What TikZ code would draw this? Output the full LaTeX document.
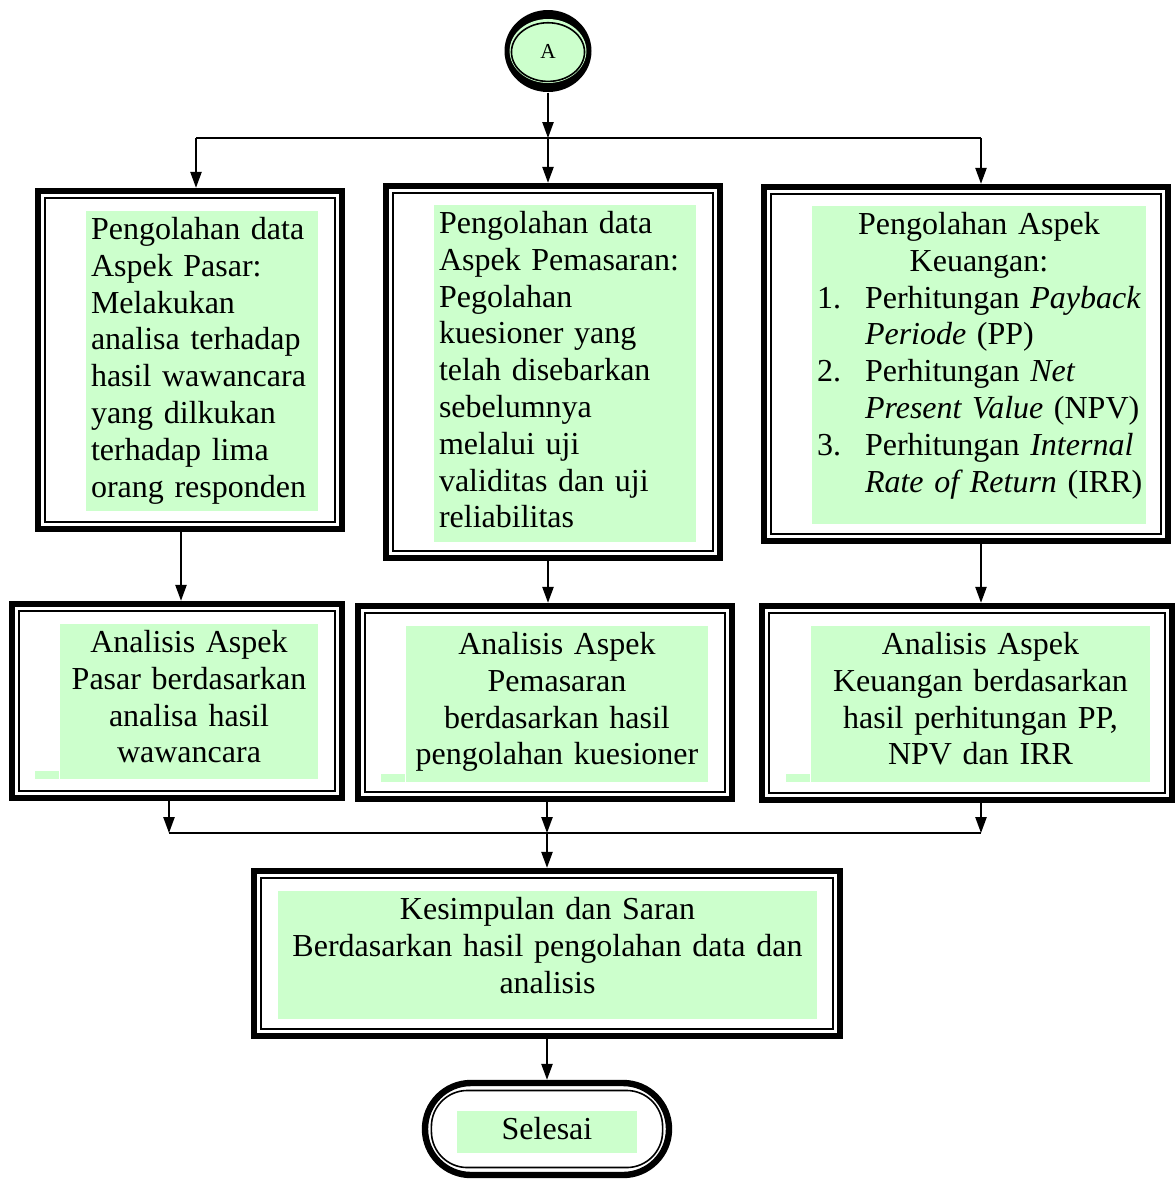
\documentclass[tikz,border=0pt]{standalone}
\usepackage{fontspec}
\setmainfont{Liberation Serif}
\usetikzlibrary{shapes.geometric,arrows.meta}
\newdimen\px \px=0.375pt
\definecolor{hijau}{HTML}{CCFFCC}
\tikzstyle{bingkai}=[draw,line width=2.4pt,inner sep=0pt]
\tikzstyle{bingkai dalam}=[draw,line width=0.6pt]
\tikzstyle{isi}=[fill=hijau,anchor=north,inner xsep=5*\px,inner ysep=0pt,text height=29*\px,font=\fontsize{12}{13.8}\selectfont]
\tikzstyle{garis}=[draw,line width=0.7pt]
\tikzstyle{panah}=[draw,line width=0.7pt,-{Triangle[length=6pt,width=4.2pt]}]
\tikzstyle{mulai}=[ellipse,fill=black,minimum width=87*\px,minimum height=82*\px,inner sep=0pt,
  font=\fontsize{8}{9}\selectfont,
  path picture={
    \fill[hijau] (path picture bounding box.center) ellipse [x radius=14.4pt,y radius=12pt];
    \draw[line width=0.6pt] ([yshift=-0.4pt]path picture bounding box.center) ellipse [x radius=13.7pt,y radius=11pt];
  }]

\begin{document}
\begin{tikzpicture}[x=0.375pt,y=-0.375pt]
    \useasboundingbox (0,0) rectangle (1176,1180);

    \node[mulai] (A) at (548,51) {A};

    \node[bingkai,minimum width=304*\px,minimum height=338*\px] (pasar) at (190,360) {};
    \node[bingkai,minimum width=334*\px,minimum height=372*\px] (pemasaran) at (553,372) {};
    \node[bingkai,minimum width=404*\px,minimum height=354*\px] (keuangan) at (966,364) {};
    \node[bingkai,minimum width=330*\px,minimum height=194*\px] (anPasar) at (177,701) {};
    \node[bingkai,minimum width=374*\px,minimum height=193*\px] (anPemasaran) at (545,702.5) {};
    \node[bingkai,minimum width=410*\px,minimum height=194*\px] (anKeuangan) at (967,703) {};
    \node[bingkai,minimum width=586*\px,minimum height=165*\px] (kesimpulan) at (547,953.5) {};
    \node[bingkai,rounded corners=45.9*\px,minimum width=244*\px,minimum height=92*\px] (selesai) at (547,1129) {};

    \foreach \b in {pasar,pemasaran,keuangan,anPasar,anPemasaran,anKeuangan,kesimpulan}{
        \path[bingkai dalam] ([xshift=3.75pt,yshift=-3.75pt]\b.north west) rectangle ([xshift=-3.75pt,yshift=3.75pt]\b.south east);
    }
    \path[bingkai dalam,rounded corners=13.5pt] ([xshift=3.6pt,yshift=-4pt]selesai.north west) rectangle ([xshift=-3.6pt,yshift=4pt]selesai.south east);

    \node[isi,text width=222*\px,text depth=271*\px,align=left] (tPasar) at (202,210)
        {Pengolahan data\\Aspek Pasar:\\Melakukan\\analisa terhadap\\hasil wawancara\\yang dilkukan\\terhadap lima\\orang responden};
    \node[isi,text width=252*\px,text depth=308*\px,align=left] (tPemasaran) at (565,204)
        {Pengolahan data\\Aspek Pemasaran:\\Pegolahan\\kuesioner yang\\telah disebarkan\\sebelumnya\\melalui uji\\validitas dan uji\\reliabilitas};
    \node[isi,text width=324*\px,text depth=289*\px,align=left] (tKeuangan) at (979,205)
        {\makebox[\hsize]{Pengolahan Aspek}\\
         \makebox[\hsize]{Keuangan:}\\
         \mbox{\makebox[48\px][l]{1.}Perhitungan \textit{Payback}}\\
         \mbox{\hspace*{48\px}\textit{Periode} (PP)}\\
         \mbox{\makebox[48\px][l]{2.}Perhitungan \textit{Net}}\\
         \mbox{\hspace*{48\px}\textit{Present Value} (NPV)}\\
         \mbox{\makebox[48\px][l]{3.}Perhitungan \textit{Internal}}\\
         \mbox{\hspace*{48\px}\textit{Rate of Return} (IRR)}};

    \node[isi,text width=248*\px,text depth=126*\px,align=center] (tAnPasar) at (189,623)
        {Analisis Aspek\\Pasar berdasarkan\\analisa hasil\\wawancara};
    \node[isi,text width=292*\px,text depth=127*\px,align=center] (tAnPemasaran) at (557,625)
        {Analisis Aspek\\Pemasaran\\berdasarkan hasil\\pengolahan kuesioner};
    \node[isi,text width=329*\px,text depth=127*\px,align=center] (tAnKeuangan) at (980.5,625)
        {Analisis Aspek\\Keuangan berdasarkan\\hasil perhitungan PP,\\NPV dan IRR};
    \foreach \t in {tAnPasar,tAnPemasaran,tAnKeuangan}{
        \fill[hijau] ([xshift=-24*\px]\t.south west) rectangle ([yshift=8.5*\px]\t.south west);
    }

    \node[isi,text width=529*\px,text depth=99*\px,align=center] (tKesimpulan) at (547.5,890)
        {Kesimpulan dan Saran\\Berdasarkan hasil pengolahan data dan\\analisis};
    \node[isi,text width=170*\px,text depth=13*\px,align=center] (tSelesai) at (547,1110) {Selesai};

    \coordinate (cabang) at (548,138);
    \coordinate (cabangKiri) at (196,138);
    \coordinate (cabangKanan) at (981,138);
    \path[panah] (A) -- (cabang);
    \path[garis] (cabangKiri) -- (cabangKanan);
    \path[panah] (cabangKiri) -- (cabangKiri |- pasar.north);
    \path[panah] (cabang) -- (cabang |- pemasaran.north);
    \path[panah] (cabangKanan) -- (cabangKanan |- keuangan.north);

    \path[panah] ([xshift=-9*\px]pasar.south) -- ([xshift=4*\px]anPasar.north);
    \path[panah] ([xshift=-5*\px]pemasaran.south) -- ([xshift=3*\px]anPemasaran.north);
    \path[panah] ([xshift=15*\px]keuangan.south) -- ([xshift=14*\px]anKeuangan.north);

    \coordinate (gabung) at (547,833);
    \coordinate (gabungKiri) at (169,833);
    \coordinate (gabungKanan) at (981,833);
    \path[panah] (gabungKiri |- anPasar.south) -- (gabungKiri);
    \path[panah] (gabung |- anPemasaran.south) -- (gabung);
    \path[panah] (gabungKanan |- anKeuangan.south) -- (gabungKanan);
    \path[garis] (gabungKiri) -- (gabungKanan);
    \path[panah] (gabung) -- (kesimpulan);
    \path[panah] (kesimpulan) -- (selesai);
\end{tikzpicture}
\end{document}
